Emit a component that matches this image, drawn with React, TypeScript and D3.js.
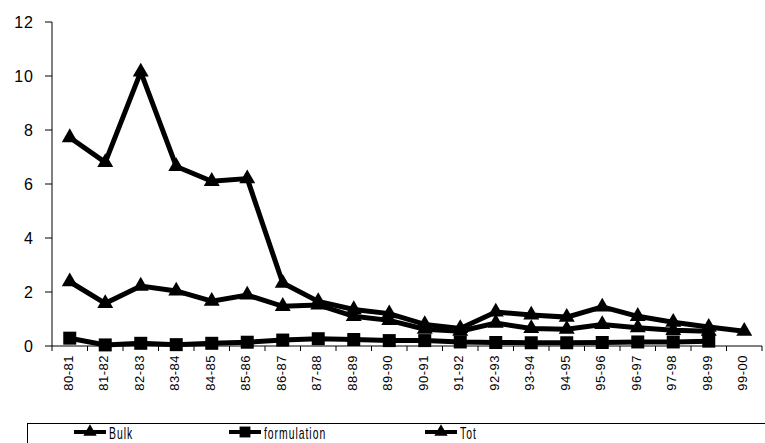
import React, { useEffect, useRef } from 'react';
import * as d3 from 'd3';

const years = [
  '80-81', '81-82', '82-83', '83-84', '84-85', '85-86', '86-87', '87-88', '88-89', '89-90',
  '90-91', '91-92', '92-93', '93-94', '94-95', '95-96', '96-97', '97-98', '98-99', '99-00',
];

const bulk = [2.38, 1.58, 2.22, 2.04, 1.66, 1.89, 1.47, 1.52, 1.1, 0.95,
  0.62, 0.55, 0.85, 0.65, 0.62, 0.8, 0.68, 0.58, 0.55, null];

const formulation = [0.29, 0.04, 0.1, 0.05, 0.1, 0.14, 0.22, 0.27, 0.24, 0.2,
  0.2, 0.15, 0.13, 0.12, 0.12, 0.13, 0.15, 0.15, 0.18, null];

const tot = [7.72, 6.8, 10.15, 6.65, 6.1, 6.2, 2.33, 1.65, 1.35, 1.2,
  0.8, 0.65, 1.26, 1.15, 1.07, 1.45, 1.1, 0.88, 0.7, 0.55];

const yTicks = [0, 2, 4, 6, 8, 10, 12];

const series = [
  { name: 'Bulk', values: bulk, symbol: d3.symbolTriangle, size: 110, legendX: 74 },
  { name: 'formulation', values: formulation, symbol: d3.symbolSquare, size: 169, legendX: 229 },
  { name: 'Tot', values: tot, symbol: d3.symbolTriangle, size: 110, legendX: 425 },
];

const App: React.FC = () => {
  const svgRef = useRef<SVGSVGElement>(null);

  useEffect(() => {
    if (!svgRef.current) return;
    const svg = d3.select(svgRef.current);
    svg.selectAll('*').remove();

    const width = 765;
    const height = 443;
    const margin = { top: 22, right: 3, bottom: 97, left: 52 };

    svg.attr('width', width).attr('height', height);

    const x = d3
      .scaleBand<string>()
      .domain(years)
      .range([margin.left, width - margin.right]);

    const y = d3
      .scaleLinear()
      .domain([0, 12])
      .range([height - margin.bottom, margin.top]);

    const cx = (c: string) => (x(c) ?? 0) + x.bandwidth() / 2;
    const font = 'Arial, "Liberation Sans", sans-serif';

    // y axis
    const yAxis = svg.append('g');
    yAxis.append('line')
      .attr('x1', margin.left).attr('x2', margin.left)
      .attr('y1', y(12)).attr('y2', y(0))
      .attr('stroke', '#000').attr('stroke-width', 1);
    yAxis.selectAll('line.tick')
      .data(yTicks)
      .enter()
      .append('line')
      .attr('class', 'tick')
      .attr('x1', margin.left - 7).attr('x2', margin.left)
      .attr('y1', d => y(d)).attr('y2', d => y(d))
      .attr('stroke', '#000');
    yAxis.selectAll('text')
      .data(yTicks)
      .enter()
      .append('text')
      .attr('x', 34)
      .attr('y', d => y(d) + 6)
      .attr('text-anchor', 'end')
      .style('font-family', font)
      .style('font-size', '16px')
      .style('letter-spacing', '1px')
      .text(d => d);

    // x axis
    const xAxis = svg.append('g');
    const y0 = y(0);
    xAxis.append('line')
      .attr('x1', margin.left).attr('x2', width - margin.right)
      .attr('y1', y0).attr('y2', y0)
      .attr('stroke', '#000');
    const bounds = years.map(c => x(c) ?? 0).concat([width - margin.right]);
    xAxis.selectAll('line.tick')
      .data(bounds)
      .enter()
      .append('line')
      .attr('class', 'tick')
      .attr('x1', d => d).attr('x2', d => d)
      .attr('y1', y0).attr('y2', y0 + 5)
      .attr('stroke', '#000');
    xAxis.selectAll('text')
      .data(years)
      .enter()
      .append('text')
      .attr('transform', d => `translate(${cx(d) + 3},${y0 + 9}) rotate(-90)`)
      .attr('text-anchor', 'end')
      .style('font-family', font)
      .style('font-size', '13px')
      .style('letter-spacing', '0.5px')
      .text(d => d);

    // series
    series.forEach(s => {
      const pts = years
        .map((c, i) => ({ c, v: s.values[i] }))
        .filter(p => p.v !== null) as { c: string; v: number }[];

      const line = d3.line<{ c: string; v: number }>()
        .x(p => cx(p.c))
        .y(p => y(p.v));

      svg.append('path')
        .datum(pts)
        .attr('d', line)
        .attr('fill', 'none')
        .attr('stroke', '#000')
        .attr('stroke-width', 5)
        .attr('stroke-linejoin', 'miter');

      svg.selectAll(`path.m-${s.name}`)
        .data(pts)
        .enter()
        .append('path')
        .attr('class', `m-${s.name}`)
        .attr('transform', p => `translate(${cx(p.c)},${y(p.v)})`)
        .attr('d', d3.symbol().type(s.symbol).size(s.size)())
        .attr('fill', '#000');
    });

    // legend
    const legend = svg.append('g');
    legend.append('rect')
      .attr('x', 27.5).attr('y', 423.5)
      .attr('width', 760).attr('height', 40)
      .attr('fill', 'none')
      .attr('stroke', '#000');

    series.forEach(s => {
      const lx = s.legendX;
      const ly = 432;
      legend.append('line')
        .attr('x1', lx).attr('x2', lx + 32)
        .attr('y1', ly).attr('y2', ly)
        .attr('stroke', '#000').attr('stroke-width', 4);
      legend.append('path')
        .attr('transform', `translate(${lx + 16},${ly})`)
        .attr('d', d3.symbol().type(s.symbol).size(s.size * 0.7)())
        .attr('fill', '#000');
      legend.append('text')
        .attr('x', 0)
        .attr('y', 0)
        .attr('transform', `translate(${lx + 35},439) scale(0.65,1)`)
        .style('font-family', font)
        .style('font-size', '16px')
        .style('letter-spacing', '1.5px')
        .text(s.name);
    });
  }, []);

  return (
    <svg
      ref={svgRef}
      style={{ position: 'absolute', left: 0, top: 0, background: '#fff' }}
    />
  );
};

export default App;
